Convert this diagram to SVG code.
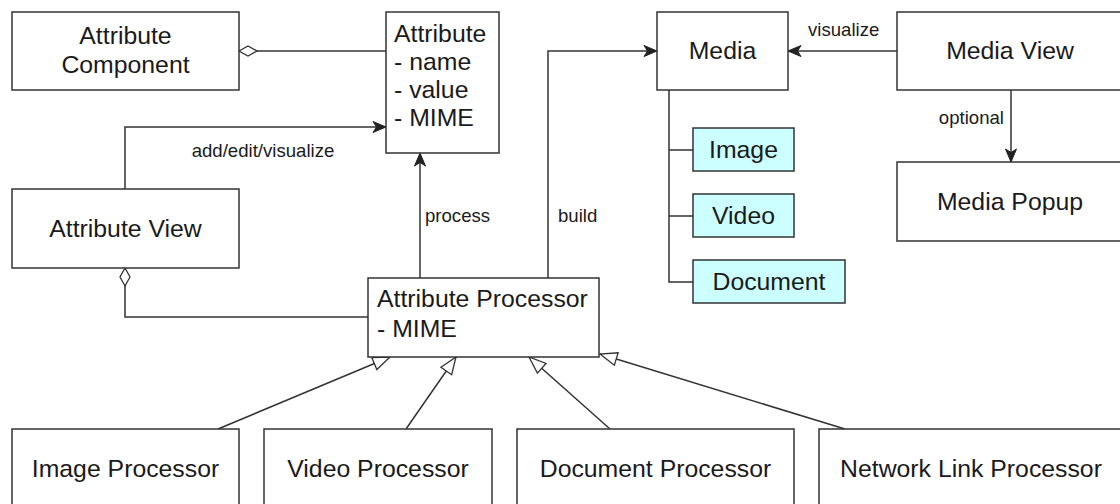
<svg xmlns="http://www.w3.org/2000/svg" width="1120" height="504" viewBox="0 0 1120 504">
<style>
.box{fill:#fff;stroke:#333;stroke-width:1.5}
.cyan{fill:#ccffff;stroke:#333;stroke-width:1.5}
.t{font-family:"Liberation Sans",Arial,sans-serif;font-size:24.8px;fill:#1a1a1a}
.c{text-anchor:middle}
.lbl{font-family:"Liberation Sans",Arial,sans-serif;font-size:18.6px;fill:#1a1a1a}
.ln{fill:none;stroke:#333;stroke-width:1.5}
</style>
<defs>
<marker id="arr" markerWidth="16" markerHeight="14" refX="14" refY="7" orient="auto" markerUnits="userSpaceOnUse">
<path d="M14,7 L1,1.5 L4.5,7 L1,12.5 Z" fill="#222" stroke="#222" stroke-width="1"/>
</marker>
<marker id="tri" markerWidth="22" markerHeight="18" refX="19" refY="9" orient="auto" markerUnits="userSpaceOnUse">
<path d="M19,9 L2,2.5 L2,15.5 Z" fill="#fff" stroke="#333" stroke-width="1.3"/>
</marker>
<marker id="dia" markerWidth="22" markerHeight="14" refX="1" refY="7" orient="auto" markerUnits="userSpaceOnUse">
<path d="M1,7 L10,2 L19,7 L10,12 Z" fill="#fff" stroke="#333" stroke-width="1.3"/>
</marker>
</defs>

<g id="connectors">
<path class="ln" d="M239,51 H386" marker-start="url(#dia)"/>
<path class="ln" d="M125,189 V127 H386" marker-end="url(#arr)"/>
<path class="ln" d="M420,278 V153" marker-end="url(#arr)"/>
<path class="ln" d="M125,268 V317 H368" marker-start="url(#dia)"/>
<path class="ln" d="M548,278 V51 H657" marker-end="url(#arr)"/>
<path class="ln" d="M897,51 H788" marker-end="url(#arr)"/>
<path class="ln" d="M1011,90 V162" marker-end="url(#arr)"/>
<path class="ln" d="M669,90 V282 H693 M669,150 H693 M669,216 H693"/>
<path class="ln" d="M218,429 L390,357" marker-end="url(#tri)"/>
<path class="ln" d="M406,429 L456,357" marker-end="url(#tri)"/>
<path class="ln" d="M610,429 L529,357" marker-end="url(#tri)"/>
<path class="ln" d="M845,429 L600,354" marker-end="url(#tri)"/>
<text class="lbl" x="263" y="157" text-anchor="middle">add/edit/visualize</text>
<text class="lbl" x="425" y="222">process</text>
<text class="lbl" x="558" y="222">build</text>
<text class="lbl" x="808" y="36">visualize</text>
<text class="lbl" x="1004" y="124" text-anchor="end">optional</text>
</g>

<g id="attribute-component">
<rect class="box" x="12" y="12" width="227" height="78"/>
<text class="t c" x="125.5" y="44">Attribute</text>
<text class="t c" x="125.5" y="73">Component</text>
</g>

<g id="attribute">
<rect class="box" x="386" y="12" width="113" height="141"/>
<text class="t" x="394" y="42">Attribute</text>
<text class="t" x="394" y="70">- name</text>
<text class="t" x="394" y="98">- value</text>
<text class="t" x="394" y="126">- MIME</text>
</g>

<g id="attribute-view">
<rect class="box" x="12" y="189" width="227" height="79"/>
<text class="t c" x="125.5" y="237">Attribute View</text>
</g>

<g id="attribute-processor">
<rect class="box" x="368" y="278" width="231" height="79"/>
<text class="t" x="377" y="307">Attribute Processor</text>
<text class="t" x="377" y="337">- MIME</text>
</g>

<g id="media">
<rect class="box" x="657" y="12" width="131" height="78"/>
<text class="t c" x="722.5" y="59">Media</text>
</g>

<g id="media-image">
<rect class="cyan" x="693" y="128" width="101" height="43"/>
<text class="t c" x="743.5" y="158">Image</text>
</g>

<g id="media-video">
<rect class="cyan" x="693" y="194" width="101" height="43"/>
<text class="t c" x="743.5" y="224">Video</text>
</g>

<g id="media-document">
<rect class="cyan" x="693" y="260" width="152" height="43"/>
<text class="t c" x="769" y="290">Document</text>
</g>

<g id="media-view">
<rect class="box" x="897" y="12" width="226" height="78"/>
<text class="t c" x="1010" y="59">Media View</text>
</g>

<g id="media-popup">
<rect class="box" x="897" y="162" width="226" height="79"/>
<text class="t c" x="1010" y="210">Media Popup</text>
</g>

<g id="image-processor">
<rect class="box" x="12" y="429" width="227" height="90"/>
<text class="t c" x="125.5" y="477">Image Processor</text>
</g>

<g id="video-processor">
<rect class="box" x="264" y="429" width="228" height="90"/>
<text class="t c" x="378" y="477">Video Processor</text>
</g>

<g id="document-processor">
<rect class="box" x="517" y="429" width="277" height="90"/>
<text class="t c" x="655.5" y="477">Document Processor</text>
</g>

<g id="network-link-processor">
<rect class="box" x="819" y="429" width="304" height="90"/>
<text class="t c" x="971" y="477">Network Link Processor</text>
</g>
</svg>
